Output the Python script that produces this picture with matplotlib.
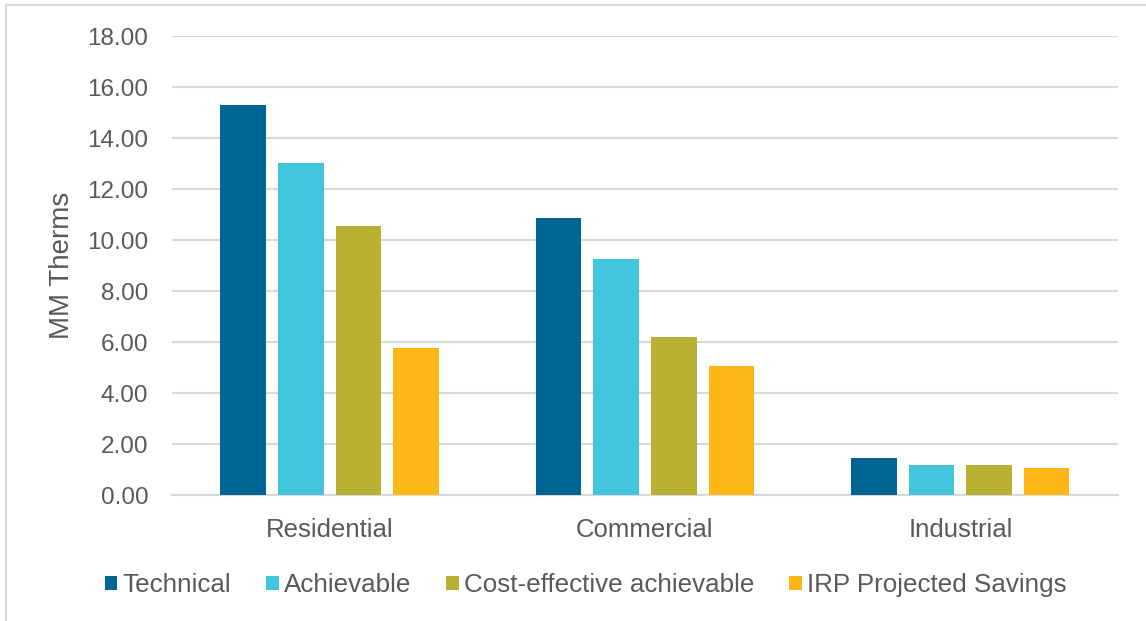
import matplotlib.pyplot as plt
import numpy as np
from matplotlib.patches import Patch
from matplotlib.lines import Line2D

plt.rcParams['font.family'] = ['Liberation Sans', 'DejaVu Sans']

sectors = ['Residential', 'Commercial', 'Industrial']
series = ['Technical', 'Achievable', 'Cost-effective achievable', 'IRP Projected Savings']
technical = [15.31, 10.89, 1.46]
achievable = [13.03, 9.27, 1.20]
cost_effective = [10.56, 6.22, 1.20]
irp_savings = [5.78, 5.08, 1.08]
yticks = [0, 2, 4, 6, 8, 10, 12, 14, 16, 18]

colors = ['#006494', '#42C4DD', '#B8AF33', '#FDB714']
text_color = '#595959'
grid_color = '#D9D9D9'

fig = plt.figure(figsize=(11.46, 6.21), dpi=100)
ax = fig.add_axes([0.150, 0.2024, 0.8256, 0.7391])

x = np.arange(len(sectors))
pitch = 0.1825
width = 0.1444
data = [technical, achievable, cost_effective, irp_savings]
for i, vals in enumerate(data):
    ax.bar(x + (i - 1.5) * pitch, vals, width=width, color=colors[i], zorder=3)

ax.set_xlim(-0.5, len(sectors) - 0.5)
ax.set_ylim(0, 18)
ax.set_yticks(yticks)
ax.set_yticklabels([f'{v:.2f}' for v in yticks])
ax.set_xticks(x)
ax.set_xticklabels(sectors)
ax.yaxis.grid(True, color=grid_color, linewidth=1.5, zorder=0)
ax.set_axisbelow(True)
for s in ['top', 'right', 'left']:
    ax.spines[s].set_visible(False)
ax.spines['bottom'].set_color(grid_color)
ax.spines['bottom'].set_linewidth(1.5)
ax.tick_params(axis='x', length=0, pad=16, labelsize=18.5, colors=text_color)
ax.tick_params(axis='y', length=0, pad=17, labelsize=17.5, colors=text_color)
ax.set_ylabel('MM Therms', fontsize=20, color=text_color, labelpad=9)

handles = [Patch(facecolor=c, label=s) for c, s in zip(colors, series)]
fig.legend(handles=handles, loc='center', bbox_to_anchor=(0.511, 0.058), ncol=4,
           frameon=False, fontsize=18.7, handlelength=0.48, handleheight=0.48,
           handletextpad=0.2, columnspacing=1.35, labelcolor=text_color)

# thin frame along the top and left edges
fig.add_artist(Line2D([0.0052, 1.0], [0.992, 0.992], transform=fig.transFigure,
                      color=grid_color, linewidth=1.5))
fig.add_artist(Line2D([0.0052, 0.0052], [0.0, 0.992], transform=fig.transFigure,
                      color=grid_color, linewidth=1.5))

fig.savefig('out.png', dpi=100)
